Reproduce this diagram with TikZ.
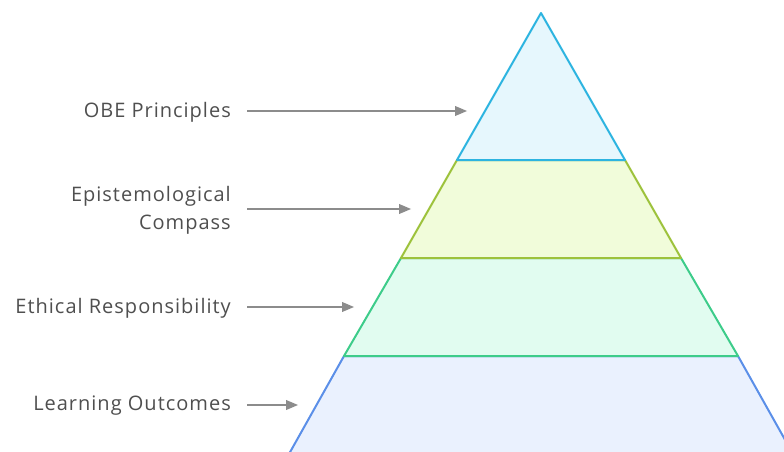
\documentclass[tikz,border=0pt]{standalone}
\usepackage{fontspec}
\setmainfont[LetterSpace=5]{Open Sans}
\usepackage{xcolor}
\usetikzlibrary{arrows}

\definecolor{txtgray}{HTML}{4F4F4F}
\definecolor{arrgray}{HTML}{8C8C8C}
\definecolor{obeline}{HTML}{2DB4E0}
\definecolor{obefill}{HTML}{E6F7FD}
\definecolor{epiline}{HTML}{9DC23C}
\definecolor{epifill}{HTML}{F1FCDA}
\definecolor{ethline}{HTML}{3DCC8A}
\definecolor{ethfill}{HTML}{E1FCF0}
\definecolor{lrnline}{HTML}{5B8FE8}
\definecolor{lrnfill}{HTML}{EAF1FE}

\begin{document}
\begin{tikzpicture}[x=1pt,y=-1pt,->,>=triangle 45]

    \useasboundingbox (0,0) rectangle (784,452);
    \clip (0,0) rectangle (784,452);

    \tikzset{label/.style={text=txtgray,
                           font=\fontsize{20}{28}\selectfont,
                           align=right,
                           anchor=east,
                           inner sep=0pt},
             layer/.style={-,line width=2pt,line join=round},
             pointer/.style={draw=arrgray,line width=1.8pt}}

    %layers, bottom first
    \draw[layer,draw=lrnline,fill=lrnfill]
        (344,356) -- (738,356) -- (802,470) -- (280,470) -- cycle;
    \draw[layer,draw=ethline,fill=ethfill]
        (401,258) -- (681,258) -- (738,356) -- (344,356) -- cycle;
    \draw[layer,draw=epiline,fill=epifill]
        (457,160) -- (625,160) -- (681,258) -- (401,258) -- cycle;
    \draw[layer,draw=obeline,fill=obefill]
        (541,13) -- (625,160) -- (457,160) -- cycle;

    \node[label] (obe) at (231,112) {OBE Principles};
    \node[label] (epi) at (231,210) {Epistemological\\Compass};
    \node[label] (eth) at (231,308) {Ethical Responsibility};
    \node[label] (lrn) at (231,406) {Learning Outcomes};

    \coordinate (obetip) at (467,111);
    \coordinate (epitip) at (411,209);
    \coordinate (ethtip) at (354,307);
    \coordinate (lrntip) at (298,405);

    \coordinate (obestart) at (247,111);
    \coordinate (epistart) at (247,209);
    \coordinate (ethstart) at (247,307);
    \coordinate (lrnstart) at (247,405);

    \draw[pointer] (obestart) -- (obetip);
    \draw[pointer] (epistart) -- (epitip);
    \draw[pointer] (ethstart) -- (ethtip);
    \draw[pointer] (lrnstart) -- (lrntip);

\end{tikzpicture}
\end{document}
